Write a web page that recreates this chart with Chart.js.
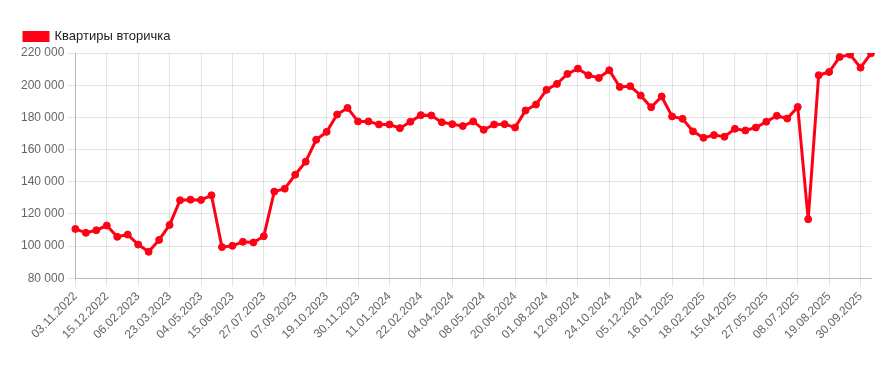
<!DOCTYPE html>
<html>
<head>
<meta charset="utf-8">
<script src="https://cdn.jsdelivr.net/npm/chart.js@4.4.1/dist/chart.umd.min.js"></script>
<style>
html,body{margin:0;padding:0;background:#fff;}
#wrap{position:relative;width:879px;height:365px;}
</style>
</head>
<body>
<div id="wrap"><canvas id="c" width="879" height="365"></canvas></div>
<script>
const labels = [
"03.11.2022","17.11.2022","01.12.2022","15.12.2022","30.12.2022","20.01.2023",
"06.02.2023","20.02.2023","06.03.2023","23.03.2023","06.04.2023","20.04.2023",
"04.05.2023","18.05.2023","01.06.2023","15.06.2023","29.06.2023","13.07.2023",
"27.07.2023","10.08.2023","24.08.2023","07.09.2023","21.09.2023","05.10.2023",
"19.10.2023","02.11.2023","16.11.2023","30.11.2023","14.12.2023","28.12.2023",
"11.01.2024","25.01.2024","08.02.2024","22.02.2024","07.03.2024","21.03.2024",
"04.04.2024","16.04.2024","26.04.2024","08.05.2024","22.05.2024","05.06.2024",
"20.06.2024","04.07.2024","18.07.2024","01.08.2024","15.08.2024","29.08.2024",
"12.09.2024","26.09.2024","10.10.2024","24.10.2024","07.11.2024","21.11.2024",
"05.12.2024","19.12.2024","02.01.2025","16.01.2025","27.01.2025","07.02.2025",
"18.02.2025","07.03.2025","25.03.2025","15.04.2025","29.04.2025","13.05.2025",
"27.05.2025","10.06.2025","24.06.2025","08.07.2025","22.07.2025","05.08.2025",
"19.08.2025","02.09.2025","16.09.2025","30.09.2025","14.10.2025"
];
const seriesName = "Квартиры вторичка";
const values = [
110700,108300,109900,112800,105800,107200,
101000,96500,103900,113200,128500,128900,
128700,131600,99400,100200,102700,102300,
106200,133900,135700,144400,152500,166100,
171000,181800,185900,177500,177500,175600,
175600,173300,177300,181400,181200,177000,
175800,174600,177500,172300,175600,175800,
173700,184300,188000,197100,200800,207000,
210300,206200,204500,209300,198900,199400,
193600,186300,193000,180600,179100,171300,
167300,169000,168000,172900,171900,173700,
177300,181000,179300,186500,116700,206200,
208200,217500,219000,210900,219800
];
const yMin = 80000, yMax = 220000, yStep = 20000;

const fmt = v => String(v).replace(/\B(?=(\d{3})+(?!\d))/g, ' ');

new Chart(document.getElementById('c'), {
  type: 'line',
  data: {
    labels: labels,
    datasets: [{
      label: seriesName,
      data: values,
      borderColor: 'rgb(255,0,20)',
      backgroundColor: 'rgb(255,0,20)',
      pointBackgroundColor: 'rgb(255,0,20)',
      pointBorderColor: 'rgb(255,0,20)',
      borderWidth: 3,
      pointRadius: 3.5,
      pointBorderWidth: 1,
      tension: 0,
      fill: false
    }]
  },
  options: {
    responsive: false,
    animation: false,
    devicePixelRatio: 1,
    layout: { padding: { left: 18, right: 8, top: 24, bottom: 20 } },
    plugins: {
      legend: {
        display: true,
        position: 'top',
        align: 'start',
        labels: {
          boxWidth: 24,
          boxHeight: 8,
          padding: 6,
          color: '#222',
          font: { family: 'Liberation Sans, Arial, sans-serif', size: 13 }
        }
      },
      tooltip: { enabled: false }
    },
    scales: {
      x: {
        ticks: {
          color: '#666',
          font: { family: 'Liberation Sans, Arial, sans-serif', size: 12 },
          maxRotation: 45,
          minRotation: 45,
          autoSkip: true,
          autoSkipPadding: 3
        },
        grid: { color: 'rgba(0,0,0,0.1)', tickLength: 8 },
        border: { color: 'rgba(0,0,0,0.2)' }
      },
      y: {
        min: yMin,
        max: yMax,
        ticks: {
          stepSize: yStep,
          color: '#666',
          font: { family: 'Liberation Sans, Arial, sans-serif', size: 12 },
          callback: v => fmt(v)
        },
        grid: { color: 'rgba(0,0,0,0.1)', tickLength: 8 },
        border: { color: 'rgba(0,0,0,0.2)' }
      }
    }
  }
});
</script>
</body>
</html>
